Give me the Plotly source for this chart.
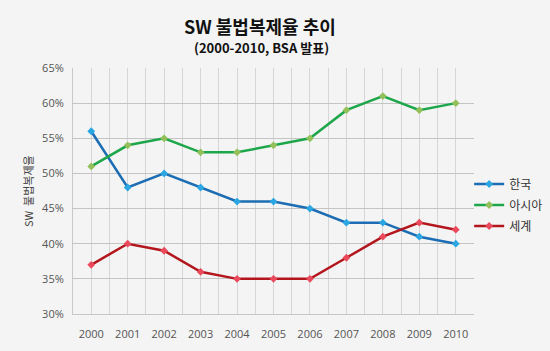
import plotly.graph_objects as go

years = [2000, 2001, 2002, 2003, 2004, 2005, 2006, 2007, 2008, 2009, 2010]
korea = [56, 48, 50, 48, 46, 46, 45, 43, 43, 41, 40]
asia = [51, 54, 55, 53, 53, 54, 55, 59, 61, 59, 60]
world = [37, 40, 39, 36, 35, 35, 35, 38, 41, 43, 42]

series = [
    ("한국", korea, "#1c6db3", "#2aa6e3"),
    ("아시아", asia, "#1ea64a", "#93c05a"),
    ("세계", world, "#b3161d", "#ea4a5c"),
]

font_family = "Open Sans, Noto Sans CJK KR, sans-serif"
kr_font = "Noto Sans CJK KR, sans-serif"

fig = go.Figure()
for name, vals, lc, mc in series:
    fig.add_trace(go.Scatter(
        x=years, y=vals, name=name, mode="lines+markers",
        legendgroup=name,
        line=dict(color=lc, width=2.5),
        marker=dict(symbol="diamond", size=6, color=mc),
    ))

fig.update_layout(
    width=550, height=351,
    margin=dict(l=73, r=76, t=68, b=37, autoexpand=False),
    paper_bgcolor="#f4f4f4",
    plot_bgcolor="#f4f4f4",
    font=dict(family=font_family, size=11, color="#555555"),
    showlegend=True,
    legend=dict(
        xref="container", yref="container",
        x=0.853, y=0.416, xanchor="left", yanchor="middle",
        bgcolor="rgba(0,0,0,0)",
        font=dict(family=kr_font, size=12, color="#333333"),
        itemwidth=30, tracegroupgap=2,
    ),
    xaxis=dict(
        range=[1999.5, 2010.5], tickmode="array", tickvals=years,
        ticktext=[str(y) for y in years],
        showgrid=True, gridcolor="#d6d6d6", gridwidth=1,
        minor=dict(dtick=1, tick0=1999.5, showgrid=True, gridcolor="#d6d6d6"),
        zeroline=False, showline=True, linecolor="#c8c8c8",
        ticks="", ticklabelstandoff=10,
        fixedrange=True,
    ),
    yaxis=dict(
        range=[30, 65], dtick=5, tick0=30, ticksuffix="%",
        showgrid=True, gridcolor="#c4c4c4", gridwidth=1,
        zeroline=False, showline=True, linecolor="#c8c8c8",
        ticks="", ticklabelstandoff=6,
    ),
    annotations=[
        dict(text="<b>SW 불법복제율 추이</b>", xref="paper", yref="paper",
             x=(260 - 73) / 401, y=1.171, xanchor="center", yanchor="middle", showarrow=False,
             font=dict(family=kr_font, size=18, color="#111111")),
        dict(text="<b>(2000-2010, BSA 발표)</b>", xref="paper", yref="paper",
             x=(261 - 73) / 401, y=1.085, xanchor="center", yanchor="middle", showarrow=False,
             font=dict(family=kr_font, size=13, color="#111111")),
        dict(text="SW  불법복제율", xref="paper", yref="paper",
             x=-0.112, y=0.5, xanchor="center", yanchor="middle", showarrow=False,
             textangle=-90, font=dict(family=kr_font, size=11, color="#444444")),
    ],
)

fig.write_html("out.html")
